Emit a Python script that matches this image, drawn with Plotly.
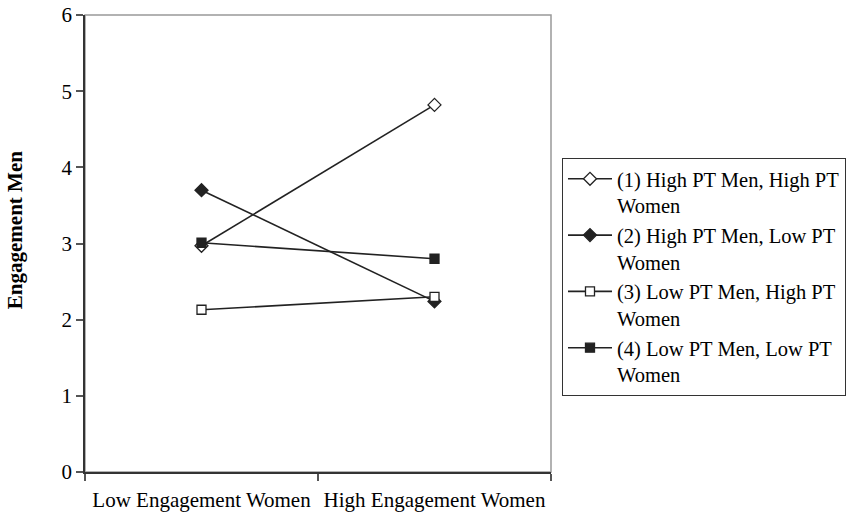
import plotly.graph_objects as go

categories = ["Low Engagement Women", "High Engagement Women"]
series_names = [
    "(1) High PT Men, High PT<br>Women",
    "(2) High PT Men, Low PT<br>Women",
    "(3) Low PT Men, High PT<br>Women",
    "(4) Low PT Men, Low PT<br>Women",
]
s1 = [2.97, 4.82]
s2 = [3.70, 2.24]
s3 = [2.13, 2.30]
s4 = [3.01, 2.80]
y_ticks = [0, 1, 2, 3, 4, 5, 6]
y_title = "Engagement Men"

FONT = "Liberation Serif, Times New Roman, serif"
LINE = "#222222"

styles = [
    dict(symbol="diamond", color="white", size=10),
    dict(symbol="diamond", color=LINE, size=10),
    dict(symbol="square", color="white", size=9),
    dict(symbol="square", color=LINE, size=9),
]

fig = go.Figure()
for name, vals, st in zip(series_names, [s1, s2, s3, s4], styles):
    fig.add_trace(go.Scatter(
        x=categories, y=vals, name=name, mode="lines+markers",
        line=dict(color=LINE, width=1.6),
        marker=dict(symbol=st["symbol"], size=st["size"], color=st["color"],
                    line=dict(color=LINE, width=1.3)),
    ))

# grey frame (top/right)
fig.add_shape(type="rect", xref="paper", yref="paper", x0=0, x1=1, y0=0, y1=1,
              line=dict(color="#999999", width=1.5), layer="below")

fig.add_annotation(
    text="<b>" + y_title + "</b>", xref="paper", yref="paper",
    x=-0.1499, y=0.5295, xanchor="center", yanchor="middle",
    textangle=-90, showarrow=False,
    font=dict(family=FONT, size=21, color="black"),
)

fig.update_layout(
    width=857, height=524,
    margin=dict(l=85, r=305, t=15, b=52),
    paper_bgcolor="white", plot_bgcolor="white",
    font=dict(family=FONT, size=21, color="black"),
    showlegend=True,
    legend=dict(
        x=1.0214, xanchor="left", y=0.4267, yanchor="middle",
        bordercolor="#333333", borderwidth=1,
        font=dict(family=FONT, size=20.5, color="black"),
        valign="top", tracegroupgap=0, itemwidth=44,
    ),
)
fig.update_xaxes(
    type="category", range=[-0.5, 1.5], tickson="boundaries",
    showline=True, linecolor="#333333", linewidth=1.5,
    ticks="outside", ticklen=7, tickcolor="#555555", tickwidth=1.5,
    showgrid=False, zeroline=False, automargin=False, tickangle=0,
    tickfont=dict(family=FONT, size=21, color="black"),
    ticklabelstandoff=8,
)
fig.update_yaxes(
    range=[0, 6], tickvals=y_ticks,
    showline=True, linecolor="#333333", linewidth=1.5,
    ticks="outside", ticklen=7, tickcolor="#555555", tickwidth=1.5,
    showgrid=False, zeroline=False, automargin=False,
    tickfont=dict(family=FONT, size=21, color="black"),
)

fig.write_html("out.html", config={"displayModeBar": False},
               post_script="document.body.style.margin='0';")
